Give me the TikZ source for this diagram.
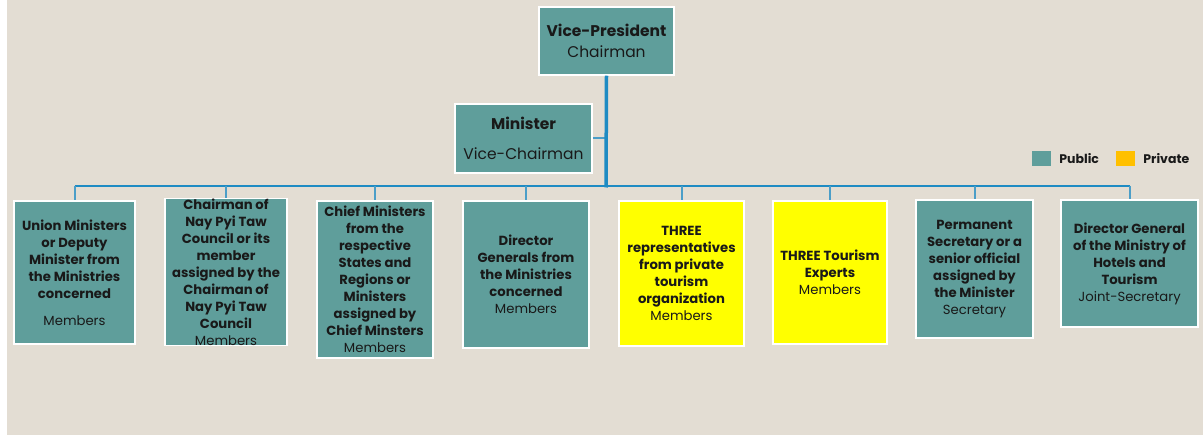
\documentclass[tikz,border=0pt]{standalone}
\usepackage{fontspec}
\setmainfont{Poppins}
\definecolor{orgteal}{RGB}{95,158,155}
\definecolor{orgyellow}{RGB}{255,255,0}
\definecolor{orgorange}{RGB}{255,192,0}
\definecolor{orgbeige}{RGB}{227,221,211}
\definecolor{orgblue}{RGB}{30,139,195}
\definecolor{orgdrop}{RGB}{75,158,200}
\usetikzlibrary{positioning}
\newcommand{\rolename}[1]{{\mdseries #1}}
\tikzset{
  unit/.style={draw=white, line width=1.5pt, align=center, inner sep=0pt, text=black!90,
    font=\fontsize{13.2}{17}\selectfont\bfseries},
  pubbox/.style={unit, fill=orgteal},
  privbox/.style={unit, fill=orgyellow},
  headbox/.style={pubbox, font=\fontsize{15.5}{21}\selectfont\bfseries},
  trunk/.style={orgblue, line width=3.5pt},
  bus/.style={orgblue, line width=2.2pt},
  drop/.style={orgdrop, line width=2pt},
  keybox/.style={minimum width=19pt, minimum height=15pt, inner sep=0pt},
  keytext/.style={font=\fontsize{12.5}{14}\selectfont\bfseries, inner sep=0pt, text=black!90}
}

\begin{document}
\begin{tikzpicture}[x=1pt, y=-1pt]
\useasboundingbox (0,0) rectangle (1203,435);
\fill[orgbeige] (7,0) rectangle (1203,435);

% top of the committee
\node[headbox, minimum width=135pt, minimum height=68pt] (vp) at (606.5,41)
  {Vice-President\\\rolename{Chairman}};
\node[headbox, minimum width=137pt, minimum height=69pt] (min) at (523.5,138.5)
  {Minister\\[9pt]\rolename{Vice-Chairman}};

% members
\node[pubbox, minimum width=121pt, minimum height=143pt] (b1) at (74.5,272.5)
  {Union Ministers\\or Deputy\\Minister from\\the Ministries\\concerned\\[10pt]\rolename{Members}};
\node[pubbox, minimum width=122pt, minimum height=142pt] (b2) at (226,272)
  {Chairman of\\Nay Pyi Taw\\Council or its\\member\\assigned by the\\Chairman of\\Nay Pyi Taw\\Council\\\rolename{Members}};
\node[pubbox, minimum width=116pt, minimum height=157pt] (b3) at (375,279.5)
  {Chief Ministers\\from the\\respective\\States and\\Regions or\\Ministers\\assigned by\\Chief Minsters\\\rolename{Members}};
\node[pubbox, minimum width=126pt, minimum height=147pt] (b4) at (526,274.5)
  {Director\\Generals from\\the Ministries\\concerned\\\rolename{Members}};
\node[privbox, minimum width=125pt, minimum height=145pt] (b5) at (681.5,273.5)
  {THREE\\representatives\\from private\\tourism\\organization\\\rolename{Members}};
\node[privbox, minimum width=114pt, minimum height=143pt] (b6) at (830,272.5)
  {THREE Tourism\\Experts\\\rolename{Members}};
\node[pubbox, minimum width=117pt, minimum height=138pt] (b7) at (974.5,269)
  {Permanent\\Secretary or a\\senior official\\assigned by\\the Minister\\\rolename{Secretary}};
\node[pubbox, minimum width=137pt, minimum height=127pt] (b8) at (1129.5,263.5)
  {Director General\\of the Ministry of\\Hotels and\\Tourism\\\rolename{Joint-Secretary}};

% connectors
\coordinate (hub) at (606,186);
\draw[bus] (b1.north |- hub) -- (b8.north |- hub);
\foreach \n in {b1,b2,b3,b4,b5,b6,b7,b8}
  \draw[drop] (\n.north |- hub) -- (\n.north);
\draw[drop] (min.east) -- (min.east -| hub);
\draw[trunk] (vp.south) -- ([yshift=-1.5pt]hub);

% legend
\node[keybox, fill=orgteal] (keypub) at (1041.5,158.5) {};
\node[keytext, right=8pt of keypub] (keypubt) {Public};
\node[keybox, fill=orgorange] (keypriv) at (1125.5,158.5) {};
\node[keytext, right=8pt of keypriv] (keyprivt) {Private};
\end{tikzpicture}
\end{document}
